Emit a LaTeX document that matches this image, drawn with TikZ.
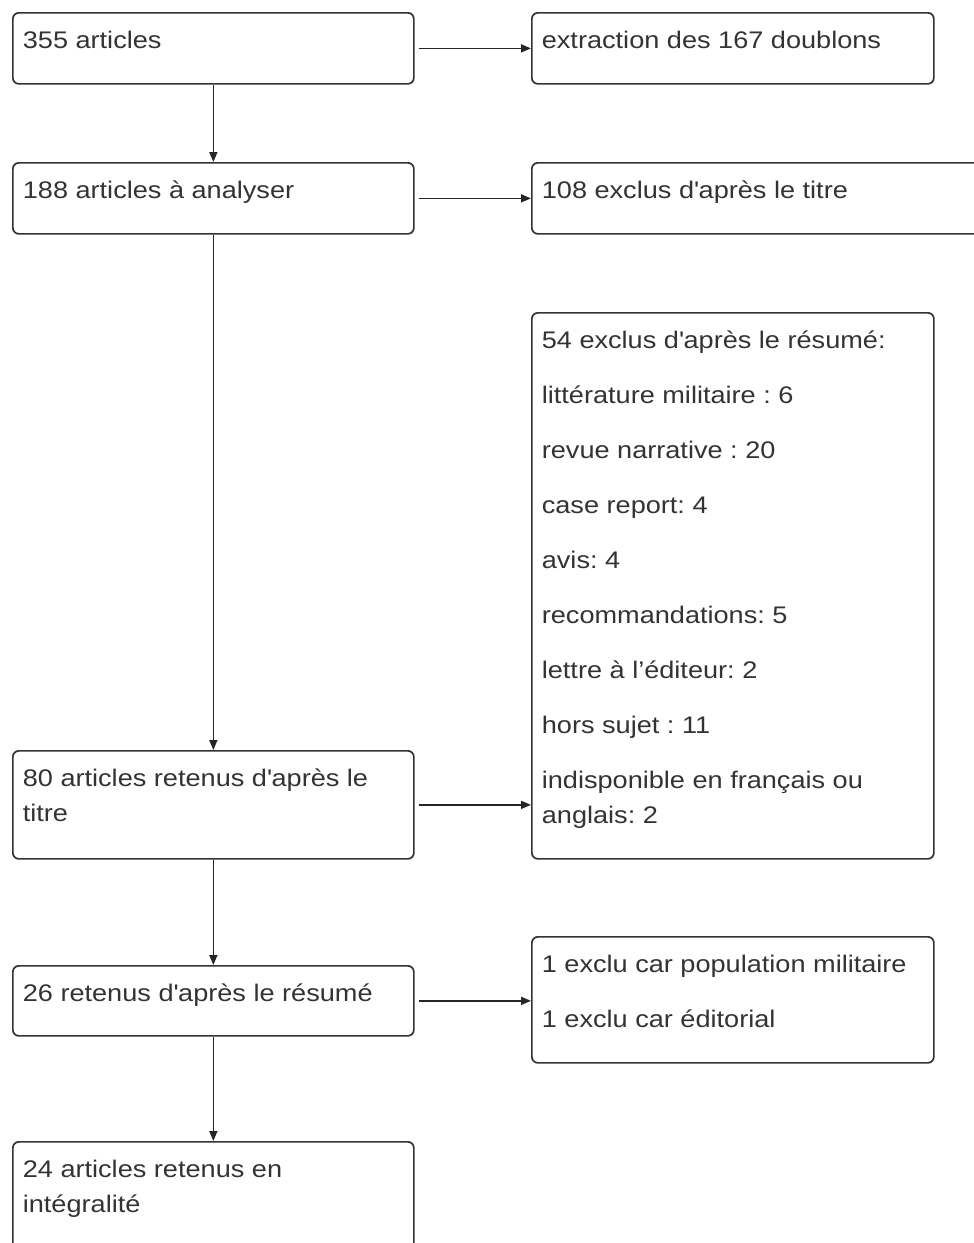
\documentclass[tikz,border=0pt]{standalone}
\usepackage{fontspec}
\setmainfont{Liberation Sans}[FakeStretch=1.13]
\usetikzlibrary{arrows.meta}

\newcommand{\ap}{\textquotesingle}
\newcommand{\boite}[3]{\parbox[c][#2pt][t]{#1pt}{\frenchspacing\raggedright\leftskip=10pt\rule{0pt}{36pt}#3}}

\tikzset{
  etape/.style={draw=black!80, line width=1.7pt, rounded corners=6pt, inner sep=0pt,
    anchor=north west, text=black!80, font=\fontsize{24}{35}\selectfont},
  fleche/.style={-{Triangle[length=10pt,width=8pt]}, line width=1.7pt, draw=black!85}
}

\begin{document}
\begin{tikzpicture}[x=1pt, y=-1pt]
  \clip (0,0) rectangle (974,1243);

  % left column
  \node[etape] (total) at (12,12) {\boite{401}{71}{355 articles}};
  \node[etape] (analyse) at (12,162) {\boite{401}{71}{188 articles à analyser}};
  \node[etape] (titre) at (12,750) {\boite{401}{108}{80 articles retenus d\ap après le\\titre}};
  \node[etape] (resume) at (12,965) {\boite{401}{70}{26 retenus d\ap après le résumé}};
  \node[etape] (final) at (12,1141) {\boite{401}{120}{24 articles retenus en\\intégralité}};

  % right column
  \node[etape] (doublons) at (531,12) {\boite{402}{71}{extraction des 167 doublons}};
  \node[etape] (exclTitre) at (531,162) {\boite{470}{71}{108 exclus d\ap après le titre}};
  \node[etape] (exclResume) at (531,312) {\boite{402}{546}{54 exclus d\ap après le résumé:\\[20pt]
    littérature militaire : 6\\[20pt]
    revue narrative : 20\\[20pt]
    case report: 4\\[20pt]
    avis: 4\\[20pt]
    recommandations: 5\\[20pt]
    lettre à l’éditeur: 2\\[20pt]
    hors sujet : 11\\[20pt]
    indisponible en français ou\\anglais: 2}};
  \node[etape] (exclTexte) at (531,936) {\boite{402}{126}{1 exclu car population militaire\\[20pt]
    1 exclu car éditorial}};

  % down arrows
  \draw[fleche] (total.south) -- (analyse.north);
  \draw[fleche] (analyse.south) -- (titre.north);
  \draw[fleche] (titre.south) -- (resume.north);
  \draw[fleche] (resume.south) -- (final.north);

  % side arrows
  \draw[fleche] ([xshift=4pt]total.east) -- (total.east -| doublons.west);
  \draw[fleche] ([xshift=4pt]analyse.east) -- (analyse.east -| exclTitre.west);
  \draw[fleche] ([xshift=4pt]titre.east) -- (titre.east -| exclResume.west);
  \draw[fleche] ([xshift=4pt]resume.east) -- (resume.east -| exclTexte.west);
\end{tikzpicture}
\end{document}
